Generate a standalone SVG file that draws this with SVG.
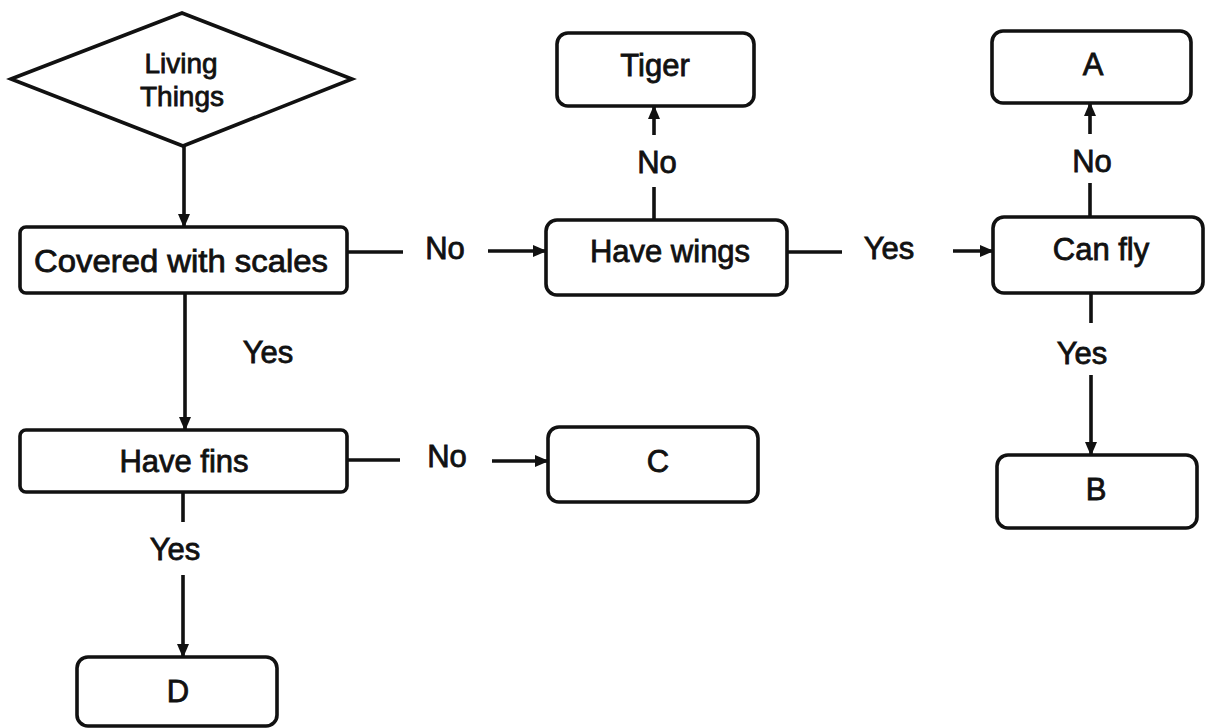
<svg xmlns="http://www.w3.org/2000/svg" width="1205" height="728" viewBox="0 0 1205 728">
<defs>
<style>
.box{fill:#fff;stroke:#111;stroke-width:3.6}
.t{font-family:"Liberation Sans",Arial,sans-serif;font-size:31px;fill:#111;stroke:#111;stroke-width:0.8;text-anchor:middle}
.s{font-size:28px}
.ln{stroke:#111;stroke-width:3.6;fill:none}
</style>
<marker id="ah" viewBox="0 0 14 12" refX="13" refY="6" markerWidth="14" markerHeight="12" markerUnits="userSpaceOnUse" orient="auto">
<path d="M0,0 L14,6 L0,12 Z" fill="#111"/>
</marker>
</defs>
<rect width="1205" height="728" fill="#fff"/>

<g id="connectors">
<line class="ln" x1="184" y1="146" x2="184" y2="227" marker-end="url(#ah)"/>
<line class="ln" x1="185" y1="293" x2="185" y2="430" marker-end="url(#ah)"/>
<line class="ln" x1="347" y1="252" x2="403" y2="252"/>
<line class="ln" x1="488" y1="251" x2="546" y2="251" marker-end="url(#ah)"/>
<line class="ln" x1="787" y1="252" x2="842" y2="252"/>
<line class="ln" x1="953" y1="251" x2="993" y2="251" marker-end="url(#ah)"/>
<line class="ln" x1="654" y1="220" x2="654" y2="187"/>
<line class="ln" x1="654" y1="135" x2="654" y2="106" marker-end="url(#ah)"/>
<line class="ln" x1="1090" y1="217" x2="1090" y2="183"/>
<line class="ln" x1="1090" y1="134" x2="1090" y2="103" marker-end="url(#ah)"/>
<line class="ln" x1="1091" y1="293" x2="1091" y2="323"/>
<line class="ln" x1="1091" y1="375" x2="1091" y2="455" marker-end="url(#ah)"/>
<line class="ln" x1="347" y1="460" x2="400" y2="460"/>
<line class="ln" x1="492" y1="461" x2="548" y2="461" marker-end="url(#ah)"/>
<line class="ln" x1="183" y1="492" x2="183" y2="522"/>
<line class="ln" x1="183" y1="575" x2="183" y2="657" marker-end="url(#ah)"/>
<text class="t" x="445" y="259">No</text>
<text class="t" x="889" y="259">Yes</text>
<text class="t" x="657" y="173">No</text>
<text class="t" x="1092" y="172">No</text>
<text class="t" x="1082" y="364">Yes</text>
<text class="t" x="268" y="363">Yes</text>
<text class="t" x="447" y="467">No</text>
<text class="t" x="175" y="560">Yes</text>
</g>

<g id="living-things">
<polygon class="box" points="11,79 182,13 352,79 183,146"/>
<text class="t s" x="181" y="73">Living</text>
<text class="t s" x="182" y="106">Things</text>
</g>
<g id="covered-with-scales">
<rect class="box" x="20" y="227" width="327" height="66" rx="6"/>
<text class="t" x="181" y="272" textLength="294" lengthAdjust="spacingAndGlyphs">Covered with scales</text>
</g>
<g id="have-wings">
<rect class="box" x="546" y="220" width="241" height="75" rx="11"/>
<text class="t" x="670" y="262">Have wings</text>
</g>
<g id="tiger">
<rect class="box" x="557" y="33" width="197" height="73" rx="11"/>
<text class="t" x="655" y="76">Tiger</text>
</g>
<g id="can-fly">
<rect class="box" x="993" y="217" width="210" height="76" rx="11"/>
<text class="t" x="1101" y="260">Can fly</text>
</g>
<g id="a">
<rect class="box" x="992" y="31" width="199" height="72" rx="11"/>
<text class="t" x="1093" y="75">A</text>
</g>
<g id="b">
<rect class="box" x="997" y="455" width="200" height="73" rx="11"/>
<text class="t" x="1096" y="500">B</text>
</g>
<g id="have-fins">
<rect class="box" x="20" y="430" width="327" height="62" rx="6"/>
<text class="t" x="184" y="472">Have fins</text>
</g>
<g id="c">
<rect class="box" x="548" y="427" width="210" height="75" rx="11"/>
<text class="t" x="658" y="472">C</text>
</g>
<g id="d">
<rect class="box" x="77" y="657" width="200" height="69" rx="11"/>
<text class="t" x="178" y="702">D</text>
</g>
</svg>
